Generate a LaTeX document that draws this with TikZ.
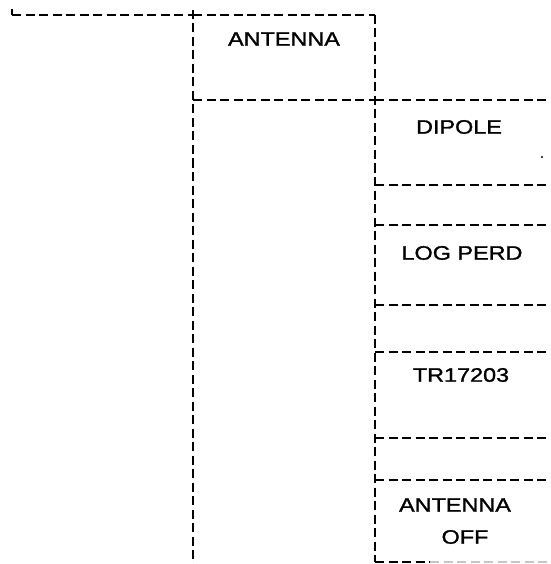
\documentclass[tikz,border=0pt]{standalone}
\usepackage{fontspec}
\newfontfamily\lblfont[FakeStretch=1.2,FakeBold=1.3]{Liberation Sans}
\begin{document}
\begin{tikzpicture}[x=1pt,y=-1pt,
  dline/.style={line width=2.5pt,dash pattern=on 9pt off 4.5pt},
  lbl/.style={font=\lblfont\fontsize{19.5}{22}\selectfont,inner sep=0pt,anchor=center}]
\useasboundingbox (0,0) rectangle (550,564);
% coordinates
\coordinate (tl0) at (12,9);
\coordinate (tl) at (12,15);
\coordinate (ax0) at (193,10);
\coordinate (ax) at (193,15);
\coordinate (axb) at (193,564);
\coordinate (bx) at (375,15);
\coordinate (bxb) at (375,562);
% top line with small tick
\draw[line width=2.5pt] (tl0) -- (tl);
\draw[dline] (tl) -- (ax);
\draw[dline] (ax) -- (bx);
% verticals
\draw[dline] (ax0) -- (axb);
\draw[dline] (bx) -- (bxb);
% horizontal rows
\foreach \yy in {100,185,225,305,352,438,480}{
  \coordinate (r\yy) at (375,\yy);
  \coordinate (re\yy) at (550,\yy);
  \draw[dline] (r\yy) -- (re\yy);
}
\coordinate (l100) at (193,100);
\draw[dline] (l100) -- (r100);
% bottom line
\coordinate (bm) at (430,562);
\coordinate (be) at (550,562);
\draw[dline] (bxb) -- (bm);
\draw[dline,gray!45] (bm) -- (be);
% labels
\node[lbl] (antenna) at (284,39) {ANTENNA};
\node[lbl] (dipole) at (459,127) {DIPOLE};
\node[lbl] (logperd) at (462,253) {LOG PERD};
\node[lbl] (tr) at (461,375) {TR17203};
\node[lbl] (aoff1) at (455,505) {ANTENNA};
\node[lbl] (aoff2) at (465,537) {OFF};
% stray dot
\fill (542,157) circle (1.1pt);
\end{tikzpicture}
\end{document}
